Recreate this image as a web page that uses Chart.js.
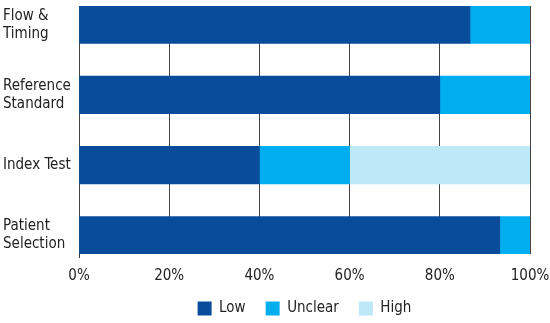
<!DOCTYPE html>
<html>
<head>
<meta charset="utf-8">
<script src="https://cdn.jsdelivr.net/npm/chart.js@4.4.1/dist/chart.umd.min.js"></script>
<style>
html,body{margin:0;padding:0;background:#fff;}
#wrap{width:550px;height:323px;}
</style>
</head>
<body>
<div id="wrap"><canvas id="c" width="550" height="323"></canvas></div>
<script>
// Categories listed bottom to top
const categories = [["Patient", "Selection"], ["Index Test"], ["Reference", "Standard"], ["Flow &", "Timing"]];
const lowValues = [93.3, 40, 80, 86.7];
const unclearValues = [6.7, 20, 20, 13.3];
const highValues = [0, 40, 0, 0];
const seriesNames = ["Low", "Unclear", "High"];
const xTicks = [0, 20, 40, 60, 80, 100];

const FONT = "'DejaVu Sans Condensed', 'Liberation Sans Narrow', 'Roboto', sans-serif";
const colors = ["#0a4c9c", "#00aeef", "#bde8f8"];
const allValues = [lowValues, unclearValues, highValues];

const datasets = seriesNames.map((name, s) => ({
  label: name,
  data: allValues[s].map((v, i) => ({ x: v, y: i })),
  backgroundColor: colors[s],
  borderWidth: 0,
  barThickness: 37.5
}));

new Chart(document.getElementById('c'), {
  type: 'bar',
  data: { datasets },
  options: {
    indexAxis: 'y',
    responsive: false,
    devicePixelRatio: 1,
    animation: false,
    layout: { padding: { left: 3, right: 20, top: 6, bottom: 0 } },
    plugins: {
      tooltip: { enabled: false },
      legend: {
        position: 'bottom',
        fullSize: false,
        maxHeight: 42,
        labels: {
          boxWidth: 14, boxHeight: 14, padding: 20,
          color: '#222',
          font: { family: FONT, size: 15 }
        }
      }
    },
    scales: {
      x: {
        type: 'linear',
        stacked: true,
        min: 0, max: 100,
        afterBuildTicks: (scale) => { scale.ticks = xTicks.map(v => ({ value: v })); },
        afterFit: (scale) => { scale.paddingLeft = 0; scale.paddingRight = 0; scale.height = 27; },
        grid: {
          color: '#444', lineWidth: 1,
          drawTicks: true, tickLength: 4,
          tickColor: (ctx) => ctx.index === 0 ? '#333' : 'rgba(0,0,0,0)'
        },
        border: { display: false },
        ticks: {
          padding: 12,
          color: '#222',
          font: { family: FONT, size: 15, lineHeight: 0.8 },
          callback: (v) => v + '%'
        }
      },
      y: {
        type: 'linear',
        stacked: true,
        offset: false,
        min: -0.265, max: 3.265,
        afterBuildTicks: (scale) => { scale.ticks = categories.map((c, i) => ({ value: i })); },
        afterFit: (scale) => { scale.width = 76; scale.paddingTop = 0; scale.paddingBottom = 0; },
        grid: { display: false },
        border: { display: false },
        ticks: {
          crossAlign: 'far',
          color: '#222',
          font: { family: FONT, size: 15, lineHeight: 1.2 },
          callback: (v) => categories[v]
        }
      }
    }
  }
});
</script>
</body>
</html>
